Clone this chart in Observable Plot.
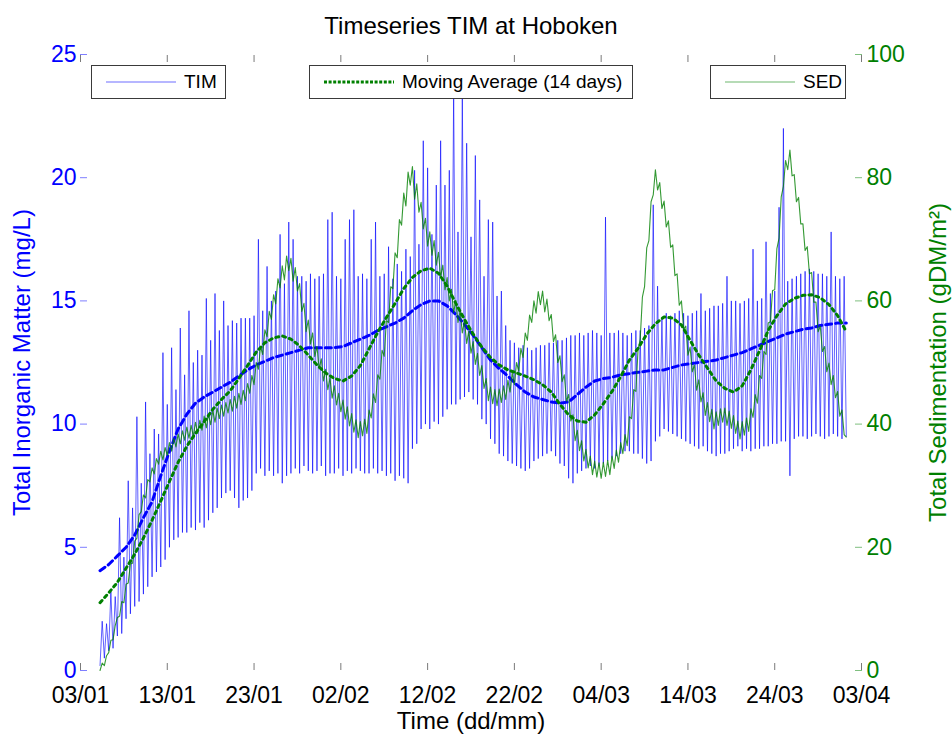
<!DOCTYPE html>
<html><head><meta charset="utf-8">
<script src="https://cdn.jsdelivr.net/npm/d3@7"></script>
<script src="https://cdn.jsdelivr.net/npm/@observablehq/plot@0.6"></script>
<style>
body{margin:0;background:#fff;font-family:"Liberation Sans",Arial,sans-serif;}
#wrap{position:relative;width:952px;height:734px;overflow:hidden;}
.leg{position:absolute;top:65px;height:34px;box-sizing:border-box;background:#fff;border:1px solid #3a3a3a;display:flex;align-items:center;font-size:19px;color:#000;white-space:nowrap;}
.leg svg{display:block;margin:0 8px 0 14px;}
</style></head><body><div id="wrap"></div>
<script>
// ---- x axis (dd/mm, year 2010) ----
const xTickLabels = ["03/01","13/01","23/01","02/02","12/02","22/02","04/03","14/03","24/03","03/04"];
const timTicks = [0, 5, 10, 15, 20, 25];
const sedTicks = [0, 20, 40, 60, 80, 100];

// ---- raw series, one sample every 6 h starting 05/01 06:00 ----
const timRaw = [
0.2,2.0,0.5,1.9, 0.8,3.2,0.9,3.0, 1.4,6.2,1.5,4.6, 2.1,7.7,2.3,6.6, 2.6,10.3,2.8,7.6,
3.1,10.9,3.4,8.8, 3.8,9.8,4.0,9.6, 4.2,12.9,4.5,10.8, 5.0,13.1,5.3,11.4, 5.4,13.9,5.6,12.0,
5.6,14.6,5.8,12.5, 5.7,13.0,6.0,12.8, 5.8,15.1,6.1,13.4, 6.4,15.3,6.6,13.8, 7.0,15.0,7.2,14.0,
7.3,14.2,7.0,14.1, 6.6,14.3,6.9,14.3, 7.0,14.3,7.3,14.4, 8.0,17.5,8.2,14.6, 7.9,16.4,8.1,15.0,
7.9,15.4,8.0,17.7, 7.6,15.7,7.9,18.2, 8.0,17.5,8.2,16.0, 8.0,16.0,8.3,15.8, 8.1,16.1,8.0,15.9,
8.1,16.0,8.3,16.1, 7.9,18.3,8.0,18.6, 8.0,16.0,8.2,15.9, 7.9,17.5,8.1,18.3, 8.0,18.7,8.2,16.0,
8.1,16.1,8.0,15.9, 8.0,17.5,8.2,18.2, 8.0,16.0,8.1,16.1, 7.9,17.2,8.0,15.9, 7.7,16.5,7.9,16.2,
7.8,17.1,7.6,16.8, 9.0,20.3,9.2,17.3, 9.8,21.5,10.0,20.4, 9.8,17.7,10.1,19.7, 10.0,21.5,10.3,19.7,
10.6,20.3,10.8,23.5, 10.8,17.8,11.0,23.3, 11.1,21.4,11.3,17.6, 11.0,20.9,10.8,19.1, 10.2,16.0,10.0,18.3,
9.4,18.2,9.2,15.2, 8.8,15.4,8.7,14.0, 8.5,13.4,8.4,13.3, 8.3,13.1,8.2,13.2, 8.1,13.1,8.2,13.0,
8.5,13.1,8.6,13.2, 8.7,13.2,8.8,13.3, 8.9,13.3,8.7,13.4, 8.4,13.4,8.3,13.5, 7.8,13.6,7.6,13.6,
8.0,13.7,8.1,13.6, 8.2,13.7,8.3,13.8, 8.2,13.7,8.3,13.6, 8.4,18.4,8.5,13.7, 8.6,13.7,8.7,13.8,
8.8,13.7,8.9,13.6, 8.9,13.7,8.8,13.8, 8.8,13.8,8.6,13.9, 8.4,14.0,8.5,18.9, 9.3,15.6,9.5,14.3,
9.8,14.5,9.7,14.4, 9.6,14.5,9.5,14.6, 9.4,14.5,9.3,14.4, 9.2,14.5,9.1,14.6, 9.0,15.3,9.1,14.6,
8.9,14.7,8.8,14.8, 8.7,14.8,8.8,14.9, 8.8,16.0,8.9,15.0, 9.0,15.0,9.1,14.9, 8.9,15.0,9.0,15.1,
8.9,17.1,9.0,15.0, 9.0,15.1,9.1,17.4, 9.1,15.3,9.2,15.4, 9.2,18.8,9.3,22.0, 9.3,15.8,7.9,15.9,
9.4,16.0,9.5,16.1, 9.5,16.2,9.4,16.3, 9.5,16.2,9.6,16.1, 9.5,16.1,9.4,16.0, 9.5,17.8,9.6,16.0,
9.5,15.9,9.4,16.0, 9.5
];
const sedRaw = [
0.0,1.2,0.8,2.4, 2.9,4.9,5.0,7.3, 8.6,8.8,11.2,11.0, 14.0,14.2,17.3,17.4, 21.0,21.5,25.3,25.8,
28.5,28.0,31.0,30.6, 32.9,31.9,34.4,33.5, 35.6,34.2,36.2,34.9, 37.0,35.6,37.7,36.3, 38.4,36.8,38.9,37.4,
39.5,37.7,39.8,38.0, 40.3,38.5,40.6,39.0, 41.3,39.4,41.6,39.9, 42.2,40.3,42.6,40.9, 43.1,41.3,43.5,41.8,
44.0,42.1,44.5,42.6, 45.0,43.2,45.5,43.8, 46.6,45.0,47.9,46.4, 50.0,48.9,52.6,51.3, 55.3,54.2,58.3,57.0,
61.0,59.5,63.6,62.1, 65.7,63.4,67.3,64.9, 66.9,63.2,65.4,61.6, 62.8,58.3,59.6,55.0, 56.9,53.0,54.8,51.0,
52.6,49.0,50.6,47.0, 48.9,45.6,47.5,44.2, 46.2,43.1,45.0,42.0, 43.9,40.8,42.8,39.7, 41.7,38.7,40.7,37.8,
40.4,38.1,40.8,38.5, 42.3,41.0,44.9,43.5, 48.0,47.3,52.0,51.0, 56.8,56.5,62.3,62.0, 67.8,67.0,73.2,72.3,
77.5,75.4,80.9,78.8, 81.8,76.5,79.0,74.4, 76.0,71.7,73.4,68.9, 71.2,67.4,69.8,65.8, 67.9,63.9,65.8,61.8,
63.8,60.0,61.9,58.1, 60.1,56.5,58.4,54.8, 56.8,53.1,55.1,51.5, 53.4,49.7,51.5,47.9, 49.5,45.8,47.4,43.8,
46.0,43.3,45.6,43.0, 45.7,43.5,46.2,44.0, 47.1,45.2,48.3,46.4, 50.0,48.6,52.3,50.8, 54.8,53.6,57.7,56.5,
60.0,58.0,61.5,59.4, 61.6,58.2,60.3,56.8, 57.8,53.4,54.5,50.0, 51.1,46.9,48.0,43.7, 44.8,40.5,41.5,37.3,
39.0,35.7,37.3,34.0, 35.9,32.9,34.8,31.8, 34.0,31.4,33.7,31.2, 33.8,31.5,34.1,31.8, 34.8,32.8,35.8,33.8,
37.0,35.2,38.3,36.5, 41.2,40.9,45.6,45.3, 52.1,53.8,60.6,62.3, 68.6,69.8,76.1,77.2, 81.3,78.0,79.2,75.0,
76.2,72.0,73.0,68.7, 69.1,64.1,64.4,59.3, 60.0,55.4,55.9,51.2, 52.5,48.5,49.6,45.5, 47.2,43.6,45.1,41.4,
43.5,40.4,42.4,39.2, 42.0,39.8,42.5,40.3, 42.6,39.8,42.1,39.3, 41.4,38.5,40.5,37.6, 40.4,38.2,41.0,38.8,
42.5,41.1,44.8,43.4, 47.9,47.4,51.8,51.3, 56.4,56.6,61.7,61.8, 68.5,70.2,76.9,78.6, 82.8,81.3,84.5,80.3,
80.5,76.1,76.8,72.5, 72.5,68.2,68.8,64.4, 64.6,59.8,59.8,55.0, 55.9,51.8,52.6,48.5, 49.9,46.4,47.9,44.3,
45.3,41.3,42.3,38.3, 37.9
];

// ---- 14-day moving averages, one value per day starting 05/01 06:00 ----
const timMA = [
4.05,4.3,4.65,5.0,5.5,6.2,6.85,7.9,8.9,9.8,10.4,10.85,11.1,11.3,11.5,11.7,11.95,12.2,12.4,12.55,
12.7,12.8,12.9,13.0,13.1,13.1,13.1,13.1,13.15,13.3,13.45,13.6,13.8,13.95,14.1,14.3,14.6,14.85,15.0,15.0,
14.8,14.45,14.05,13.6,13.1,12.6,12.25,11.95,11.6,11.3,11.1,11.0,10.9,10.85,10.9,11.2,11.5,11.75,11.85,11.9,
12.0,12.05,12.1,12.15,12.2,12.2,12.3,12.4,12.45,12.5,12.55,12.6,12.7,12.8,12.9,13.05,13.2,13.35,13.5,13.65,
13.75,13.85,13.9,14.0,14.05,14.1,14.1
];
const sedMA = [
11.0,12.6,14.3,16.6,18.9,21.5,24.4,27.5,30.7,33.8,36.4,38.5,40.4,42.4,44.0,45.4,47.4,49.5,51.7,53.2,
54.0,54.3,53.8,52.7,51.2,49.6,48.3,47.4,47.0,47.8,49.5,52.2,54.9,57.3,59.6,62.0,63.8,64.9,65.3,64.5,
62.4,59.6,57.0,54.6,52.5,50.8,49.6,48.8,48.3,47.8,47.2,46.4,45.2,43.2,41.5,40.5,40.3,41.5,43.3,45.3,
47.7,50.4,52.3,54.6,56.3,57.4,57.2,56.1,53.6,51.2,49.1,47.0,45.8,45.2,46.2,48.8,51.9,55.2,57.6,59.5,
60.4,60.9,61.0,60.5,59.4,57.6,55.0
];

// ---- build tables ----
const YEAR = 2010;
const parseDM = s => { const [d, m] = s.split("/").map(Number); return new Date(YEAR, m - 1, d); };
const xTicks = xTickLabels.map(parseDM);
const labelOf = new Map(xTicks.map((t, i) => [+t, xTickLabels[i]]));
const seriesStart = new Date(YEAR, 0, 5, 6);
const sedScale = sedTicks[sedTicks.length - 1] / timTicks[timTicks.length - 1]; // 100 / 25

const raw = timRaw.map((v, i) => ({t: d3.timeHour.offset(seriesStart, 6 * i), tim: v, sed: sedRaw[i]}));
const ma = timMA.map((v, i) => ({t: d3.timeHour.offset(seriesStart, 24 * i), tim: v, sed: sedMA[i]}));

const BLUE = "#0000ff", GREEN = "#008000";
const FS = 24, TFS = 23;

const chart = Plot.plot({
  width: 952, height: 734,
  marginLeft: 80, marginRight: 91, marginTop: 54, marginBottom: 64,
  style: {fontFamily: "'Liberation Sans', Arial, sans-serif", background: "#fff", overflow: "visible"},
  x: {type: "time", domain: [xTicks[0], xTicks[xTicks.length - 1]]},
  y: {domain: [timTicks[0], timTicks[timTicks.length - 1]]},
  marks: [
    Plot.line(raw, {x: "t", y: "tim", stroke: BLUE, strokeWidth: 1, strokeOpacity: 0.62}),
    Plot.line(ma, {x: "t", y: "tim", stroke: BLUE, strokeWidth: 3, strokeDasharray: "6 4"}),
    Plot.line(raw, {x: "t", y: d => d.sed / sedScale, stroke: GREEN, strokeWidth: 1.1, strokeOpacity: 0.8}),
    Plot.line(ma, {x: "t", y: d => d.sed / sedScale, stroke: GREEN, strokeWidth: 3, strokeDasharray: "3 4"}),
    // bottom axis
    Plot.axisX(xTicks, {anchor: "bottom", tickSize: -7, tickPadding: 23, stroke: "#7a7a7a", fill: "#000",
      line: true, fontSize: TFS, tickFormat: t => labelOf.get(+t), label: null}),
    // top frame with ticks
    Plot.axisX(xTicks, {anchor: "top", tickSize: -7, stroke: "#7a7a7a", line: true, tickFormat: () => "", label: null}),
    // left axis
    Plot.axisY(timTicks, {anchor: "left", tickSize: -7, tickPadding: 11, stroke: "#7f7fff", fill: BLUE,
      line: true, fontSize: TFS, label: null}),
    // right axis (sedimentation)
    Plot.axisY(sedTicks.map(s => s / sedScale), {anchor: "right", tickSize: -7, tickPadding: 12, stroke: "#7fbf7f", fill: GREEN,
      line: true, fontSize: TFS, tickFormat: d => String(Math.round(d * sedScale)), label: null}),
    Plot.text(["Timeseries TIM at Hoboken"], {text: d => d, frameAnchor: "top", lineAnchor: "middle", dy: -28, fontSize: FS, fill: "#000"}),
    Plot.text(["Time (dd/mm)"], {text: d => d, frameAnchor: "bottom", lineAnchor: "middle", dy: 51, fontSize: FS, fill: "#000"}),
    Plot.text(["Total Inorganic Matter (mg/L)"], {text: d => d, frameAnchor: "left", textAnchor: "middle", lineAnchor: "middle", rotate: -90, dx: -58, fontSize: FS, fill: BLUE}),
    Plot.text(["Total Sedimentation (gDM/m²)"], {text: d => d, frameAnchor: "right", textAnchor: "middle", lineAnchor: "middle", rotate: -90, dx: 77, fontSize: FS, fill: GREEN})
  ]
});
const wrap = document.getElementById("wrap");
wrap.appendChild(chart);

// ---- legends (three boxes) ----
const legends = [
  {label: "TIM", left: 91, width: 135, stroke: "#6f6fff", sw: 1.2, dash: null},
  {label: "Moving Average (14 days)", left: 309, width: 324, stroke: GREEN, sw: 3, dash: "3 1.6"},
  {label: "SED", left: 710, width: 136, stroke: "#6fb76f", sw: 1.2, dash: null}
];
for (const L of legends) {
  const box = document.createElement("div");
  box.className = "leg";
  box.style.left = L.left + "px";
  box.style.width = L.width + "px";
  const ns = "http://www.w3.org/2000/svg";
  const s = document.createElementNS(ns, "svg");
  s.setAttribute("width", 70); s.setAttribute("height", 8);
  const ln = document.createElementNS(ns, "line");
  ln.setAttribute("x1", 0); ln.setAttribute("x2", 70); ln.setAttribute("y1", 4); ln.setAttribute("y2", 4);
  ln.setAttribute("stroke", L.stroke); ln.setAttribute("stroke-width", L.sw);
  if (L.dash) ln.setAttribute("stroke-dasharray", L.dash);
  s.appendChild(ln);
  box.appendChild(s);
  const sp = document.createElement("span");
  sp.textContent = L.label;
  box.appendChild(sp);
  wrap.appendChild(box);
}
</script></body></html>
